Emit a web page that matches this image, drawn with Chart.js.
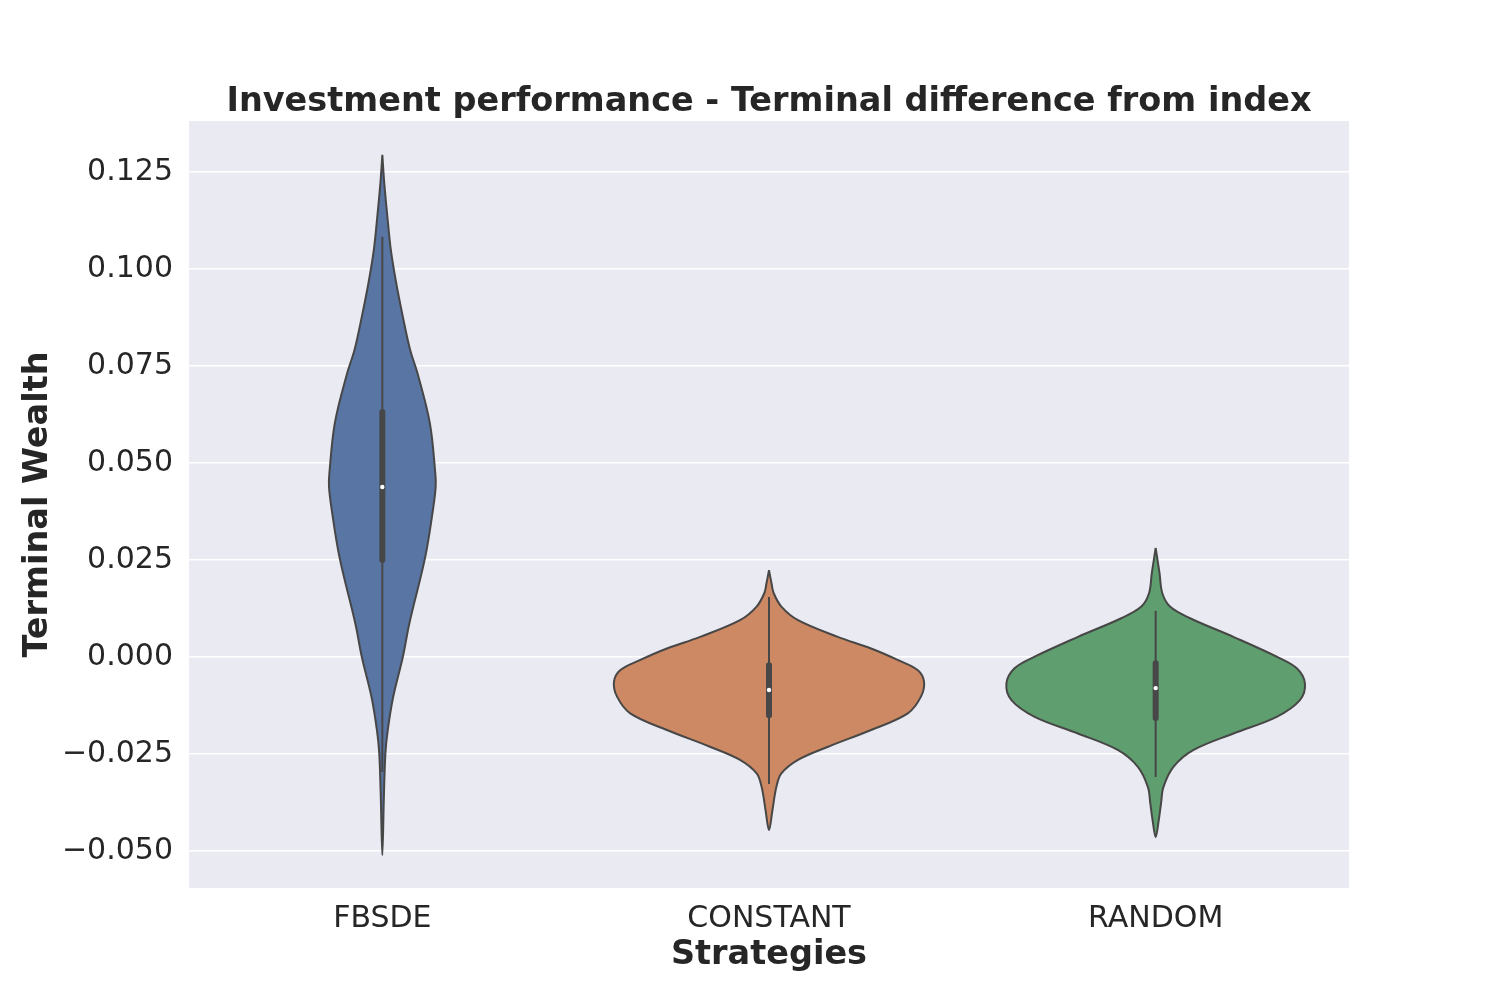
<!DOCTYPE html>
<html>
<head>
<meta charset="utf-8">
<script src="https://cdn.jsdelivr.net/npm/chart.js@4"></script>
<style>
  body { margin: 0; background: #fff; }
  #wrap { width: 1500px; height: 1000px; }
</style>
</head>
<body>
<div id="wrap"><canvas id="violin"></canvas></div>
<script>
// Categories and tick labels
const categories = ["FBSDE", "CONSTANT", "RANDOM"];
const yTicks = [-0.05, -0.025, 0, 0.025, 0.05, 0.075, 0.1, 0.125];
const yTickLabels = ["\u22120.050", "\u22120.025", "0.000", "0.025", "0.050", "0.075", "0.100", "0.125"];

// Violin outlines: values (top to bottom) and half-widths (in category units)
const fbsdeValues = [0.1294, 0.1221, 0.1135, 0.1049, 0.0963, 0.0877, 0.0791, 0.0731, 0.0602, 0.0473, 0.0440, 0.0387, 0.0258, 0.0087, 0.0, -0.0103, -0.0188, -0.0247, -0.0361, -0.051];
const fbsdeWidths = [0, 0.005, 0.013, 0.022, 0.036, 0.053, 0.072, 0.091, 0.123, 0.137, 0.138, 0.132, 0.111, 0.070, 0.053, 0.028, 0.014, 0.008, 0.004, 0];

const constantValues = [0.0224, 0.0190, 0.0165, 0.0130, 0.0095, 0.0052, 0.0022, -0.0008, -0.0034, -0.0064, -0.0102, -0.0145, -0.0188, -0.0231, -0.0265, -0.0300, -0.0335, -0.0394, -0.0446];
const constantWidths = [0, 0.0065, 0.012, 0.032, 0.075, 0.178, 0.264, 0.334, 0.385, 0.401, 0.393, 0.359, 0.264, 0.153, 0.075, 0.032, 0.019, 0.009, 0];

const randomValues = [0.0281, 0.0216, 0.0165, 0.0130, 0.0100, 0.0052, 0.0001, -0.0029, -0.0068, -0.0111, -0.0154, -0.0197, -0.0240, -0.0283, -0.0335, -0.0376, -0.0420, -0.0464];
const randomWidths = [0, 0.010, 0.017, 0.037, 0.089, 0.201, 0.313, 0.365, 0.386, 0.373, 0.313, 0.201, 0.097, 0.046, 0.020, 0.014, 0.008, 0];

// Inner box stats
const medians = [0.0438, -0.0085, -0.0080];
const q1 = [0.025, -0.0150, -0.0157];
const q3 = [0.0631, -0.0021, -0.0016];
const whiskerLow = [-0.0296, -0.0327, -0.0309];
const whiskerHigh = [0.1083, 0.0155, 0.0119];

const fills = ["#5875a4", "#cc8963", "#5f9e6e"];
const edge = "#474747";
const fontFamily = "'DejaVu Sans', sans-serif";

// Build a closed outline: right side downwards, then left side back up
function outline(center, values, widths) {
  const pts = [];
  for (let i = 0; i < values.length; i++) {
    pts.push({ x: center + widths[i], y: values[i] });
  }
  for (let i = values.length - 2; i >= 0; i--) {
    pts.push({ x: center - widths[i], y: values[i] });
  }
  return pts;
}

const shapes = [
  [fbsdeValues, fbsdeWidths],
  [constantValues, constantWidths],
  [randomValues, randomWidths]
];

const datasets = [];

shapes.forEach((s, i) => {
  datasets.push({
    data: outline(i, s[0], s[1]),
    showLine: true,
    fill: "shape",
    backgroundColor: fills[i],
    borderColor: edge,
    borderWidth: 2,
    pointRadius: 0,
    tension: 0.35,
    order: 4
  });
  datasets.push({
    data: [{ x: i, y: whiskerLow[i] }, { x: i, y: whiskerHigh[i] }],
    showLine: true,
    borderColor: edge,
    borderWidth: 2,
    pointRadius: 0,
    order: 3
  });
  datasets.push({
    data: [{ x: i, y: q1[i] }, { x: i, y: q3[i] }],
    showLine: true,
    borderColor: edge,
    borderWidth: 6,
    borderCapStyle: "round",
    pointRadius: 0,
    order: 2
  });
  datasets.push({
    data: [{ x: i, y: medians[i] }],
    pointRadius: 2.2,
    pointBackgroundColor: "#fff",
    pointBorderWidth: 0,
    order: 1
  });
});

const plotBackground = {
  id: "plotBackground",
  beforeDraw(chart) {
    const { ctx, chartArea } = chart;
    ctx.save();
    ctx.fillStyle = "#eaeaf2";
    ctx.fillRect(chartArea.left, chartArea.top, chartArea.right - chartArea.left, chartArea.bottom - chartArea.top);
    ctx.restore();
  }
};

new Chart(document.getElementById("violin"), {
  type: "scatter",
  data: { datasets: datasets },
  plugins: [plotBackground],
  options: {
    responsive: true,
    maintainAspectRatio: false,
    animation: false,
    layout: { padding: { top: 0, right: 151, bottom: 0, left: 0 } },
    plugins: {
      legend: { display: false },
      tooltip: { enabled: false },
      title: {
        display: true,
        fullSize: false,
        text: "Investment performance - Terminal difference from index",
        color: "#262626",
        font: { family: fontFamily, size: 33.5, weight: "bold" },
        padding: { top: 82, bottom: -1.2 }
      }
    },
    scales: {
      x: {
        type: "linear",
        min: -0.5,
        max: 2.5,
        afterBuildTicks: axis => { axis.ticks = categories.map((c, i) => ({ value: i })); },
        afterFit: axis => { axis.height = 112; },
        ticks: {
          callback: (v, i) => categories[i],
          color: "#262626",
          font: { family: fontFamily, size: 30 },
          padding: 5,
          maxRotation: 0
        },
        grid: { display: false },
        border: { display: false },
        title: {
          display: true,
          text: "Strategies",
          color: "#262626",
          font: { family: fontFamily, size: 33.5, weight: "bold" },
          padding: { bottom: 25 }
        }
      },
      y: {
        type: "linear",
        min: -0.0595,
        max: 0.1381,
        afterBuildTicks: axis => { axis.ticks = yTicks.map(v => ({ value: v })); },
        afterFit: axis => { axis.width = 189; },
        ticks: {
          callback: (v, i) => yTickLabels[i],
          color: "#262626",
          font: { family: fontFamily, size: 30 },
          padding: 16
        },
        grid: { color: "#ffffff", lineWidth: 1.5, drawTicks: false },
        border: { display: false },
        title: {
          display: true,
          text: "Terminal Wealth",
          color: "#262626",
          font: { family: fontFamily, size: 33.5, weight: "bold" },
          padding: { top: 18 }
        }
      }
    }
  }
});
</script>
</body>
</html>
